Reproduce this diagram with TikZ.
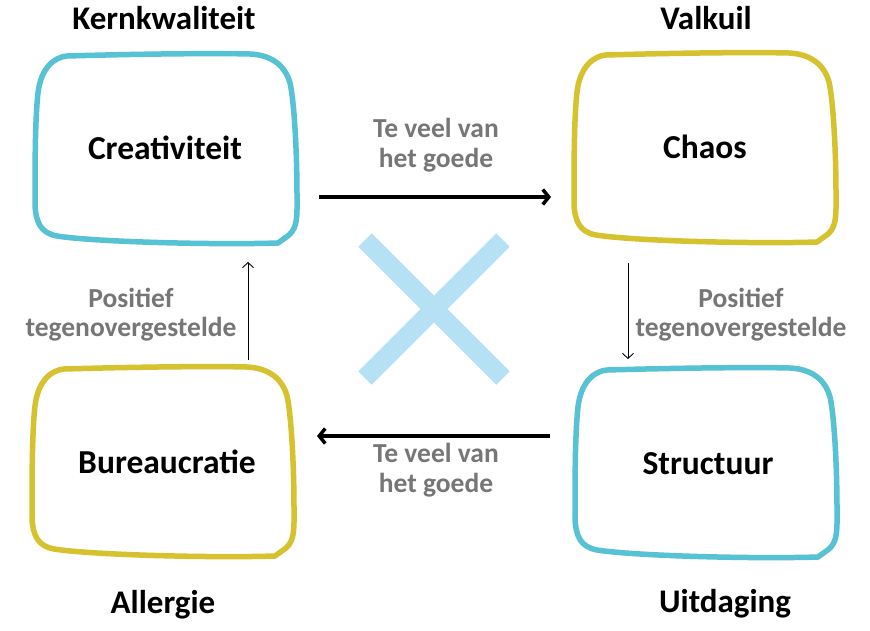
\documentclass[tikz,border=0pt]{standalone}
\usepackage{fontspec}
\setmainfont{Carlito}
\usetikzlibrary{arrows.meta}
\definecolor{cyanB}{RGB}{86,194,211}
\definecolor{yellowB}{RGB}{214,194,47}
\definecolor{crossC}{RGB}{182,225,245}
\definecolor{greyT}{RGB}{118,118,118}
\tikzset{
  handbox/.pic={
    \draw[line width=5.5, line join=round, pic actions]
      (32,1) .. controls (100,-1) and (180,-2) .. (215,-1)
      .. controls (236,0) and (250,10) .. (255,28)
      .. controls (259,45) and (262,95) .. (262,140)
      .. controls (262,160) and (263,172) .. (254,180)
      -- (243,188)
      .. controls (180,190) and (60,187) .. (22,181)
      .. controls (6,178) and (1,168) .. (0,150)
      .. controls (0,110) and (0,65) .. (3,38)
      .. controls (6,12) and (20,2) .. (32,1) -- cycle;
  },
  mainlbl/.style={font=\fontsize{33.5}{38}\selectfont\bfseries, inner sep=0pt, anchor=base},
  headlbl/.style={font=\fontsize{33}{38}\selectfont\bfseries, inner sep=0pt, anchor=base},
  smalllbl/.style={font=\fontsize{27.5}{32}\selectfont\bfseries, text=greyT, inner sep=0pt, anchor=base},
  thickarrow/.style={line width=3.5, -{Straight Barb[length=6pt,width=15pt]}},
  thinarrow/.style={line width=0.9, -{Straight Barb[length=5pt,width=11pt]}},
  crossbar/.style={draw=crossC, line width=19, line cap=butt},
}
\begin{document}
\begin{tikzpicture}[x=1pt,y=-1pt]
\useasboundingbox[fill=white] (0,0) rectangle (870,630);
% boxes
\pic[draw=cyanB] at (35,55) {handbox};
\pic[draw=yellowB] at (574,54) {handbox};
\pic[draw=yellowB] at (32,368) {handbox};
\pic[draw=cyanB] at (575,369) {handbox};
% cross
\coordinate (x1) at (365,240);
\coordinate (x2) at (503,378);
\coordinate (x3) at (503,240);
\coordinate (x4) at (365,378);
\draw[crossbar] (x1) -- (x2);
\draw[crossbar] (x3) -- (x4);
% main labels
\node[mainlbl] (crea) at (165,159) {Creativiteit};
\node[mainlbl] (chaos) at (705,158) {Chaos};
\node[mainlbl] (bur) at (167,473) {Bureaucratie};
\node[mainlbl] (struc) at (708,474) {Structuur};
% headers
\node[headlbl] (kern) at (164,29) {Kernkwaliteit};
\node[headlbl] (valk) at (706,29) {Valkuil};
\node[headlbl] (allg) at (163,613) {Allergie};
\node[headlbl] (uitd) at (725,612) {Uitdaging};
% small labels
\node[smalllbl] (tv1) at (436,137) {Te veel van};
\node[smalllbl] (tv1b) at (436,167) {het goede};
\node[smalllbl] (tv2) at (436,462) {Te veel van};
\node[smalllbl] (tv2b) at (436,492) {het goede};
\node[smalllbl] (pl1) at (131,307) {Positief};
\node[smalllbl] (pl1b) at (131,336) {tegenovergestelde};
\node[smalllbl] (pr1) at (741,307) {Positief};
\node[smalllbl] (pr1b) at (741,336) {tegenovergestelde};
% arrows
\coordinate (a1s) at (319,197);
\coordinate (a1e) at (551,197);
\coordinate (a2s) at (550,436);
\coordinate (a2e) at (317,436);
\coordinate (a3s) at (248,360);
\coordinate (a3e) at (248,262);
\coordinate (a4s) at (628,263);
\coordinate (a4e) at (628,359);
\draw[thickarrow] (a1s) -- (a1e);
\draw[thickarrow] (a2s) -- (a2e);
\draw[thinarrow] (a3s) -- (a3e);
\draw[thinarrow] (a4s) -- (a4e);
\end{tikzpicture}
\end{document}
